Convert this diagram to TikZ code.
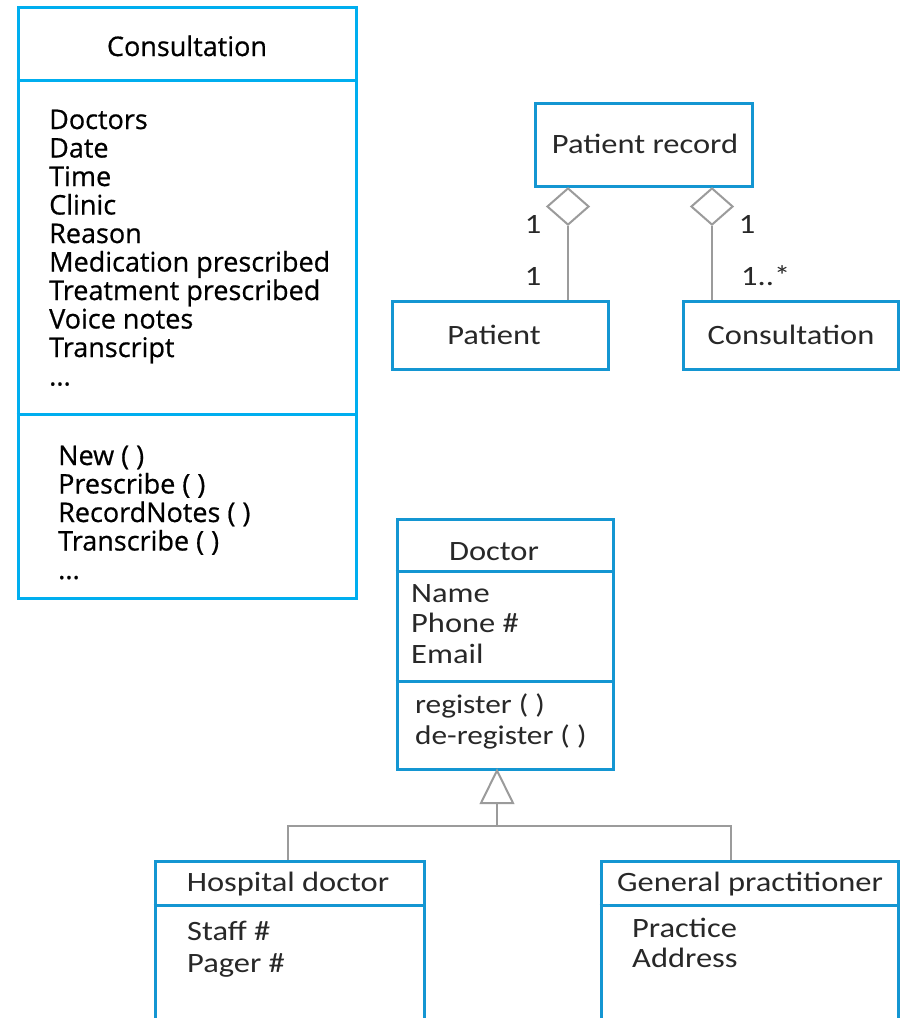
\documentclass[tikz,border=0pt]{standalone}
\usepackage{fontspec}
\setmainfont[FakeBold=0.6]{Open Sans}
\newfontfamily\umlfont[FakeStretch=1.16]{Carlito}
\usetikzlibrary{calc,shapes.geometric}
\definecolor{cyanline}{RGB}{0,174,239}
\definecolor{blueline}{RGB}{20,150,210}
\definecolor{connline}{RGB}{155,155,155}
\definecolor{umltext}{RGB}{40,40,40}
\tikzset{
  bigbox/.style={draw=cyanline, line width=3pt, inner sep=0pt},
  classbox/.style={draw=blueline, line width=3pt, inner sep=0pt},
  divider/.style={line width=3pt},
  conn/.style={draw=connline, line width=2pt},
  bigtext/.style={inner sep=0pt, align=left, font=\fontsize{27}{28.5}\selectfont},
  umltxt/.style={inner sep=0pt, align=left, text=umltext, font=\umlfont\fontsize{28}{30.5}\selectfont},
  multlabel/.style={inner sep=0pt, text=umltext, font=\umlfont\fontsize{28}{30}\selectfont},
}
\begin{document}
\begin{tikzpicture}[x=1pt, y=-1pt]
\clip (0,0) rectangle (903,1018);
\fill[white] (0,0) rectangle (903,1018);

% ---- Consultation class with attributes and operations ----
% (multi-line nodes are placed by the baseline of their last line)
\node[bigbox, minimum width=338pt, minimum height=591pt] (consult) at (187,302.5) {};
\draw[cyanline, divider] (consult.west |- 0,80) -- (consult.east |- 0,80);
\draw[cyanline, divider] (consult.west |- 0,414) -- (consult.east |- 0,414);
\node[bigtext, anchor=base] (consulttitle) at (187,56) {Consultation};
\node[bigtext, anchor=base west] (consultattr) at (49,385.5) {Doctors\\Date\\Time\\Clinic\\Reason\\Medication prescribed\\Treatment prescribed\\Voice notes\\Transcript\\...};
\node[bigtext, anchor=base west] (consultops) at (58,579) {New ( )\\Prescribe ( )\\RecordNotes ( )\\Transcribe ( )\\...};

% ---- Patient record aggregation ----
\node[classbox, minimum width=217pt, minimum height=83pt] (precord) at (643.5,144.5) {};
\node[umltxt, anchor=base] (precordname) at (645,153) {Patient record};
\node[classbox, minimum width=216pt, minimum height=68pt] (patient) at (500,335) {};
\node[umltxt, anchor=base] (patientname) at (494,344) {Patient};
\node[classbox, minimum width=215pt, minimum height=68pt] (consultsmall) at (790.5,335) {};
\node[umltxt, anchor=base] (consultsmallname) at (791,344) {Consultation};

\node[diamond, draw=connline, line width=2pt, fill=white, inner sep=0pt, minimum width=42pt, minimum height=37pt, anchor=north] (dleft) at (568,187) {};
\node[diamond, draw=connline, line width=2pt, fill=white, inner sep=0pt, minimum width=42pt, minimum height=37pt, anchor=north] (dright) at (712,187) {};
\draw[conn] (dleft.south) -- (dleft.south |- patient.north);
\draw[conn] (dright.south) -- (dright.south |- consultsmall.north);

\node[multlabel, anchor=base] (m1) at (533,233) {1};
\node[multlabel, anchor=base] (m2) at (533,285) {1};
\node[multlabel, anchor=base] (m3) at (747,233) {1};
\node[multlabel, anchor=base west] (m4) at (741,285) {1..*};

% ---- Doctor generalisation hierarchy ----
\node[classbox, minimum width=216pt, minimum height=250pt] (doctor) at (505,644) {};
\draw[blueline, divider] (doctor.west |- 0,571) -- (doctor.east |- 0,571);
\draw[blueline, divider] (doctor.west |- 0,681) -- (doctor.east |- 0,681);
\node[umltxt, anchor=base] (doctorname) at (494,560) {Doctor};
\node[umltxt, anchor=base west] (doctorattr) at (411,663) {Name\\Phone \#\\Email};
\node[umltxt, anchor=base west, font=\umlfont\fontsize{27}{31}\selectfont] (doctorops) at (415,744) {register ( )\\de-register ( )};

\node[classbox, minimum width=269pt, minimum height=180pt, anchor=north] (hosp) at (289.5,860) {};
\draw[blueline, divider] (hosp.west |- 0,905) -- (hosp.east |- 0,905);
\node[umltxt, anchor=base] (hospname) at (288,891) {Hospital doctor};
\node[umltxt, anchor=base west, font=\umlfont\fontsize{28}{32}\selectfont] (hospattr) at (187,972) {Staff \#\\Pager \#};

\node[classbox, minimum width=297pt, minimum height=180pt, anchor=north] (gp) at (749.5,860) {};
\draw[blueline, divider] (gp.west |- 0,905) -- (gp.east |- 0,905);
\node[umltxt, anchor=base] (gpname) at (750,891) {General practitioner};
\node[umltxt, anchor=base west, font=\umlfont\fontsize{28}{30}\selectfont] (gpattr) at (632,967) {Practice\\Address};

\coordinate (tribase) at (497,803);
\coordinate (bus) at (497,826);
\coordinate (hx) at (288,0);
\coordinate (gx) at (731,0);
\draw[conn] (tribase) -- (bus);
\draw[conn] (hosp.north -| hx) |- (bus) -| (gp.north -| gx);
\draw[conn, fill=white, line join=miter] (doctor.south -| tribase) -- ($(tribase)+(16,0)$) -- ($(tribase)+(-16,0)$) -- cycle;
\end{tikzpicture}
\end{document}
